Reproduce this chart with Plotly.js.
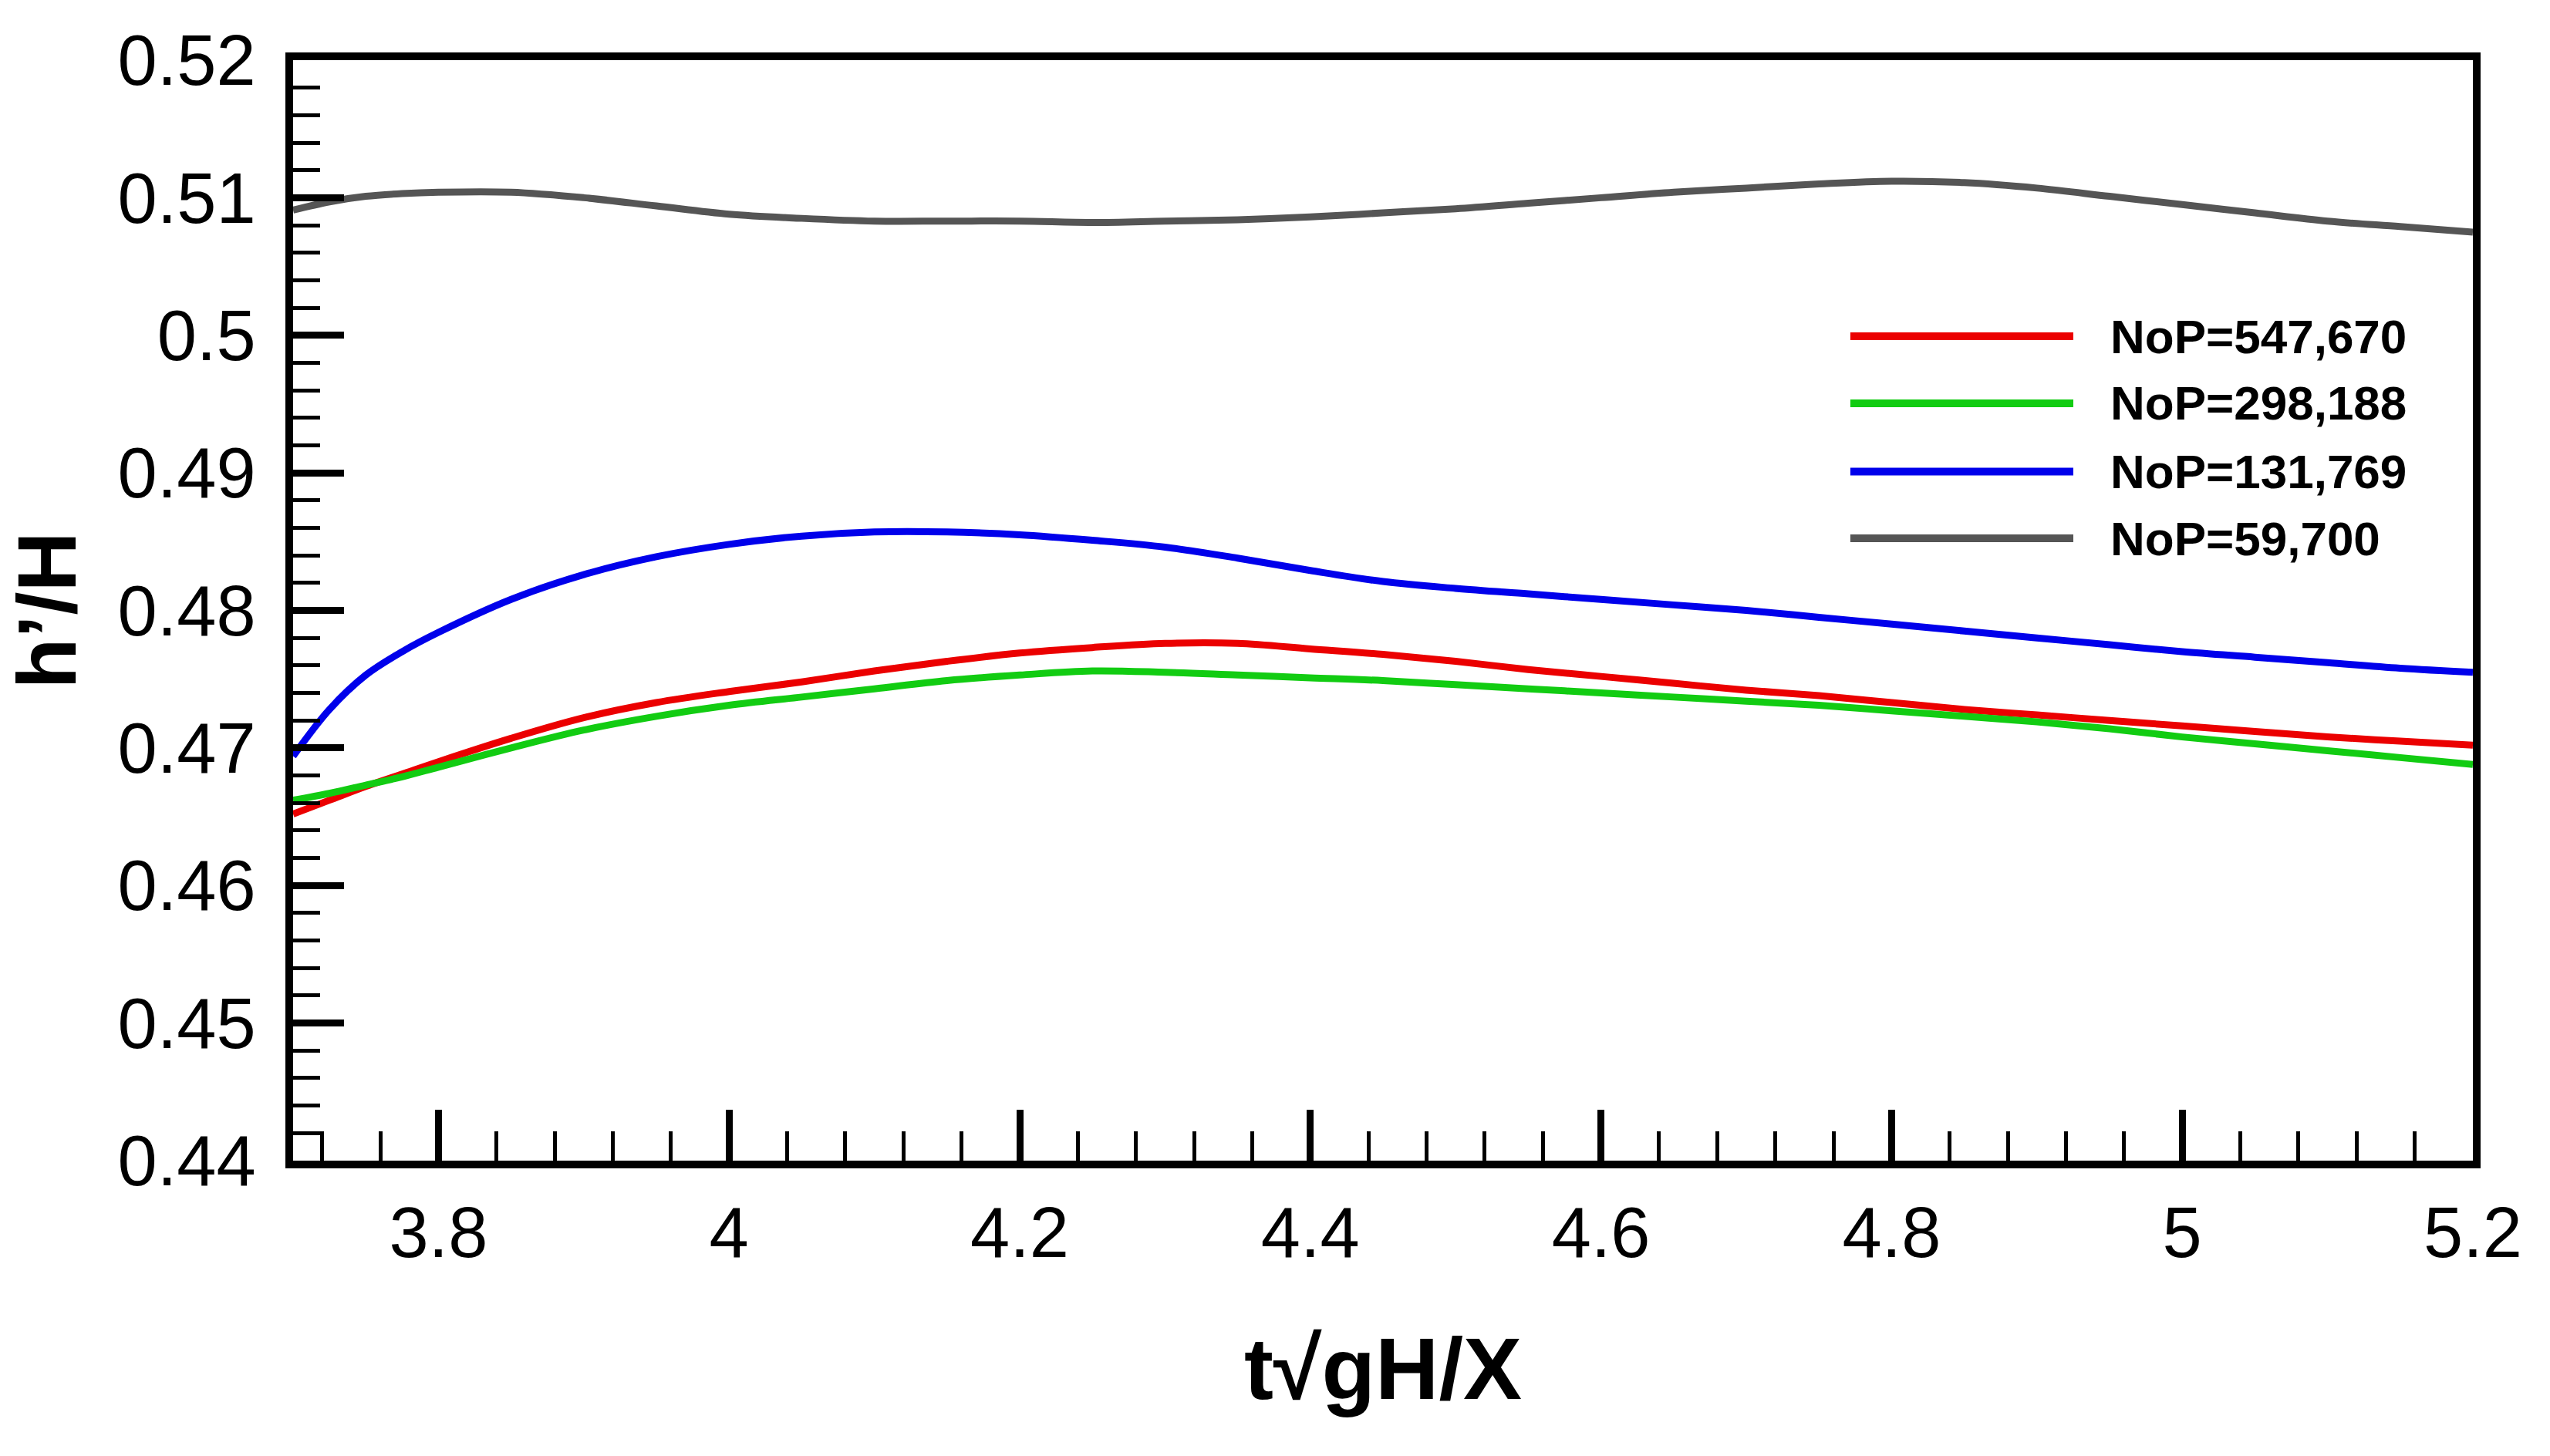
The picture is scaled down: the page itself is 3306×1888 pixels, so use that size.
<!DOCTYPE html>
<html>
<head>
<meta charset="utf-8">
<script src="https://cdn.plot.ly/plotly-3.0.1.min.js"></script>
<style>html,body{margin:0;padding:0;background:#fff;}#chart{width:3306px;height:1888px;}</style>
</head>
<body>
<div id="chart"></div>
<script>
const xValues = [3.70,3.725,3.75,3.775,3.80,3.85,3.90,3.95,4.00,4.05,4.10,4.15,4.20,4.25,4.30,4.35,4.40,4.45,4.50,4.55,4.60,4.65,4.70,4.75,4.80,4.85,4.90,4.95,5.00,5.05,5.10,5.15,5.20];

const nop547670 = [0.4652,0.4662,0.4672,0.4681,0.4690,0.4707,0.4722,0.4733,0.4741,0.4748,0.4756,0.4763,0.4769,0.4773,0.4776,0.4776,0.4772,0.4768,0.4763,0.4757,0.4752,0.4747,0.4742,0.4738,0.4733,0.4728,0.4724,0.4720,0.4716,0.4712,0.4708,0.4705,0.4702];
const nop298188 = [0.4662,0.4667,0.4673,0.4679,0.4686,0.4700,0.4713,0.4723,0.4731,0.4737,0.4743,0.4749,0.4753,0.4756,0.4755,0.4753,0.4751,0.4749,0.4746,0.4743,0.4740,0.4737,0.4734,0.4731,0.4727,0.4723,0.4719,0.4714,0.4708,0.4703,0.4698,0.4693,0.4688];
const nop131769 = [0.4694,0.4728,0.4753,0.4770,0.4784,0.4808,0.4826,0.4839,0.4848,0.4854,0.4857,0.4857,0.4855,0.4851,0.4846,0.4838,0.4829,0.4821,0.4816,0.4812,0.4808,0.4804,0.4800,0.4795,0.4790,0.4785,0.4780,0.4775,0.4770,0.4766,0.4762,0.4758,0.4755];
const nop59700  = [0.5091,0.5097,0.5101,0.5103,0.5104,0.5104,0.5100,0.5094,0.5088,0.5085,0.5083,0.5083,0.5083,0.5082,0.5083,0.5084,0.5086,0.5089,0.5092,0.5096,0.5100,0.5104,0.5107,0.5110,0.5112,0.5111,0.5107,0.5101,0.5095,0.5089,0.5083,0.5079,0.5075];

const seriesNames = ["NoP=547,670","NoP=298,188","NoP=131,769","NoP=59,700"];
const seriesColors = ["rgb(235,0,0)","rgb(18,204,18)","rgb(0,0,235)","rgb(85,85,85)"];
const seriesValues = [nop547670, nop298188, nop131769, nop59700];

const xTitle = "t\u221AgH/X";
const yTitle = "h\u2019/H";

const traces = seriesValues.map((vals, i) => ({
  type: "scatter",
  mode: "lines",
  x: xValues,
  y: vals,
  name: seriesNames[i],
  line: {color: seriesColors[i], width: 9, shape: "spline", smoothing: 1},
  showlegend: false,
  hoverinfo: "skip"
}));

// custom legend (long line samples)
const legX0 = 0.7144, legX1 = 0.8167, legTextX = 0.8330;
const legY = [0.7491, 0.6882, 0.6261, 0.5655];
const shapes = [];
const annotations = [];
seriesNames.forEach((nm, i) => {
  shapes.push({type: "line", xref: "paper", yref: "paper", x0: legX0, x1: legX1, y0: legY[i], y1: legY[i],
               line: {color: seriesColors[i], width: 10}});
  annotations.push({xref: "paper", yref: "paper", x: legTextX, y: legY[i], xanchor: "left", yanchor: "middle",
                    showarrow: false, text: "<b>" + nm + "</b>",
                    font: {family: "Liberation Sans, Arial, sans-serif", size: 62, color: "#000"}});
});

const layout = {
  width: 3306, height: 1888,
  paper_bgcolor: "#fff", plot_bgcolor: "#fff",
  margin: {l: 380, r: 100, t: 78, b: 383},
  font: {family: "Liberation Sans, Arial, sans-serif", color: "#000"},
  xaxis: {
    range: [3.7, 5.2000001], dtick: 0.2, tick0: 0,
    showgrid: false, zeroline: false,
    showline: true, linecolor: "#000", linewidth: 10, mirror: true,
    ticks: "inside", ticklen: 66, tickwidth: 9, tickcolor: "#000",
    minor: {dtick: 0.04, tick0: 0, ticks: "inside", ticklen: 38, tickwidth: 5, tickcolor: "#000", showgrid: false},
    tickfont: {family: "Liberation Sans, Arial, sans-serif", size: 92, color: "#000"},
    ticklabelstandoff: 5,
    title: {text: "<b>" + xTitle + "</b>", font: {family: "Liberation Sans, Arial, sans-serif", size: 114, color: "#000"}, standoff: 90}
  },
  yaxis: {
    range: [0.4399999, 0.5200001], dtick: 0.01, tick0: 0,
    showgrid: false, zeroline: false,
    showline: true, linecolor: "#000", linewidth: 10, mirror: true,
    ticks: "inside", ticklen: 66, tickwidth: 9, tickcolor: "#000",
    minor: {dtick: 0.002, tick0: 0, ticks: "inside", ticklen: 35, tickwidth: 5, tickcolor: "#000", showgrid: false},
    tickfont: {family: "Liberation Sans, Arial, sans-serif", size: 92, color: "#000"},
    ticklabelstandoff: 20,
    title: {text: "<b>" + yTitle + "</b>", font: {family: "Liberation Sans, Arial, sans-serif", size: 108, color: "#000"}, standoff: 45}
  },
  shapes: shapes,
  annotations: annotations
};

Plotly.newPlot("chart", traces, layout, {staticPlot: true, displayModeBar: false});
</script>
</body>
</html>
